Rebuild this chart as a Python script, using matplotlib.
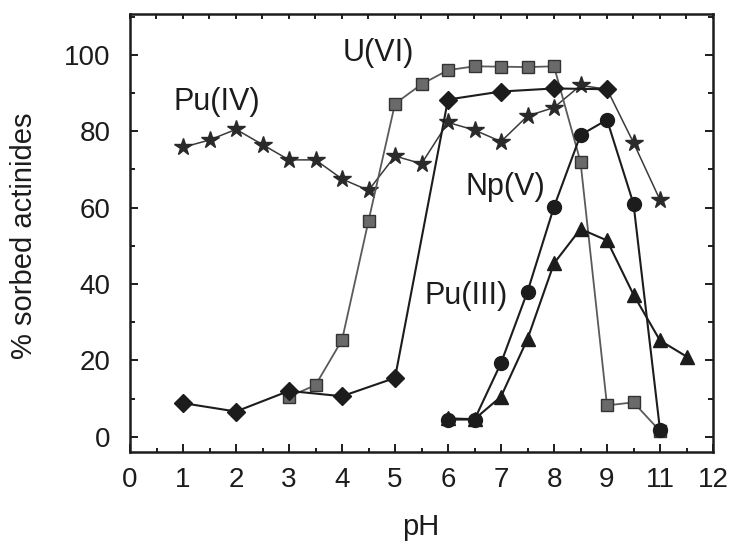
import matplotlib
matplotlib.use("Agg")
import matplotlib.pyplot as plt
from matplotlib.ticker import MultipleLocator

plt.rcParams['font.family'] = ['Liberation Sans', 'DejaVu Sans']

# x positions along the axis (tick slots; labels skip "10" as in the original)
tick_pos = list(range(12))
tick_labels = ['0', '1', '2', '3', '4', '5', '6', '7', '8', '9', '11', '12']

# Pu(IV) - stars
puiv_x = [1.0, 1.5, 2.0, 2.5, 3.0, 3.5, 4.0, 4.5, 5.0, 5.5, 6.0, 6.5, 7.0, 7.5, 8.0, 8.5, 9.0, 9.5, 10.0]
puiv_y = [75.8, 77.7, 80.5, 76.5, 72.5, 72.5, 67.5, 64.5, 73.5, 71.5, 82.3, 80.3, 77.3, 84.0, 86.2, 92.0, 91.0, 77.0, 62.0]

# U(VI) - grey squares
u_x = [3.0, 3.5, 4.0, 4.5, 5.0, 5.5, 6.0, 6.5, 7.0, 7.5, 8.0, 8.5, 9.0, 9.5, 10.0]
u_y = [10.5, 13.5, 25.3, 56.5, 87.2, 92.3, 96.0, 97.0, 96.9, 96.8, 97.0, 72.0, 8.2, 9.0, 1.5]

# diamonds
dia_x = [1.0, 2.0, 3.0, 4.0, 5.0, 6.0, 7.0, 8.0, 9.0]
dia_y = [8.8, 6.6, 12.0, 10.6, 15.4, 88.3, 90.4, 91.2, 91.0]

# circles
cir_x = [6.0, 6.5, 7.0, 7.5, 8.0, 8.5, 9.0, 9.5, 10.0]
cir_y = [4.5, 4.5, 19.3, 38.0, 60.2, 79.0, 83.0, 61.0, 1.8]

# triangles
tri_x = [6.0, 6.5, 7.0, 7.5, 8.0, 8.5, 9.0, 9.5, 10.0, 10.5]
tri_y = [4.8, 4.6, 10.5, 25.6, 45.4, 54.4, 51.4, 37.2, 25.2, 21.0]

fig = plt.figure(figsize=(7.35, 5.49), dpi=100)
ax = fig.add_axes([130/735, 1-452/549, 583/735, 438/549])

ink = '#1c1c1c'
# the star at pH 9 is hidden behind the diamond in the original
star_marks = [i for i in range(len(puiv_x)) if i != 16]
ax.plot(puiv_x, puiv_y, '-', color='#3a3a3a', lw=1.1, marker='*', ms=13,
        mfc='#2a2a2a', mec='#2a2a2a', markevery=star_marks, zorder=2)
ax.plot(u_x, u_y, '-', color='#5a5a5a', lw=1.3, marker='s', ms=8,
        mfc='#6a6a6a', mec='#333333', mew=1.0, zorder=3)
ax.plot(tri_x, tri_y, '-', color=ink, lw=1.5, marker='^', ms=10,
        mfc=ink, mec=ink, zorder=4)
ax.plot(cir_x, cir_y, '-', color=ink, lw=1.5, marker='o', ms=10,
        mfc=ink, mec=ink, zorder=5)
ax.plot(dia_x, dia_y, '-', color=ink, lw=1.5, marker='D', ms=9,
        mfc=ink, mec=ink, zorder=6)

ax.set_xlim(0, 11)
ax.set_ylim(-4, 110.7)
ax.set_xticks(tick_pos)
ax.set_xticklabels(tick_labels)
ax.xaxis.set_minor_locator(MultipleLocator(0.5))
ax.set_yticks([0, 20, 40, 60, 80, 100])
ax.yaxis.set_minor_locator(MultipleLocator(10))

ax.tick_params(axis='both', which='both', direction='in', color=ink, width=1.4,
               labelsize=20, labelcolor=ink)
ax.tick_params(axis='x', which='major', length=6, pad=11, bottom=True, top=False)
ax.tick_params(axis='x', which='minor', length=3, bottom=True, top=False)
ax.tick_params(axis='y', which='major', length=6, pad=14, left=True, right=True)
ax.tick_params(axis='y', which='minor', length=3.5, left=True, right=True)

top = ax.twiny()
top.set_xlim(0, 11)
top.xaxis.set_major_locator(MultipleLocator(0.5))
top.tick_params(axis='x', which='both', direction='in', length=3.5, width=1.4,
                color=ink, labeltop=False, top=True)
for sp in top.spines.values():
    sp.set_visible(False)

for sp in ax.spines.values():
    sp.set_linewidth(1.8)
    sp.set_color(ink)

ax.text(4.68, 100.6, 'U(VI)', fontsize=22, color=ink, ha='center', va='center')
ax.text(1.64, 87.7, 'Pu(IV)', fontsize=22, color=ink, ha='center', va='center')
ax.text(7.08, 65.4, 'Np(V)', fontsize=22, color=ink, ha='center', va='center')
ax.text(6.34, 36.8, 'Pu(III)', fontsize=22, color=ink, ha='center', va='center')

fig.text(24/735, 1-236/549, '% sorbed actinides', rotation=90, fontsize=21,
         color=ink, ha='center', va='center')
fig.text(421/735, 1-527/549, 'pH', fontsize=21, color=ink, ha='center', va='center')

fig.savefig('out.png', dpi=100, facecolor='white')
